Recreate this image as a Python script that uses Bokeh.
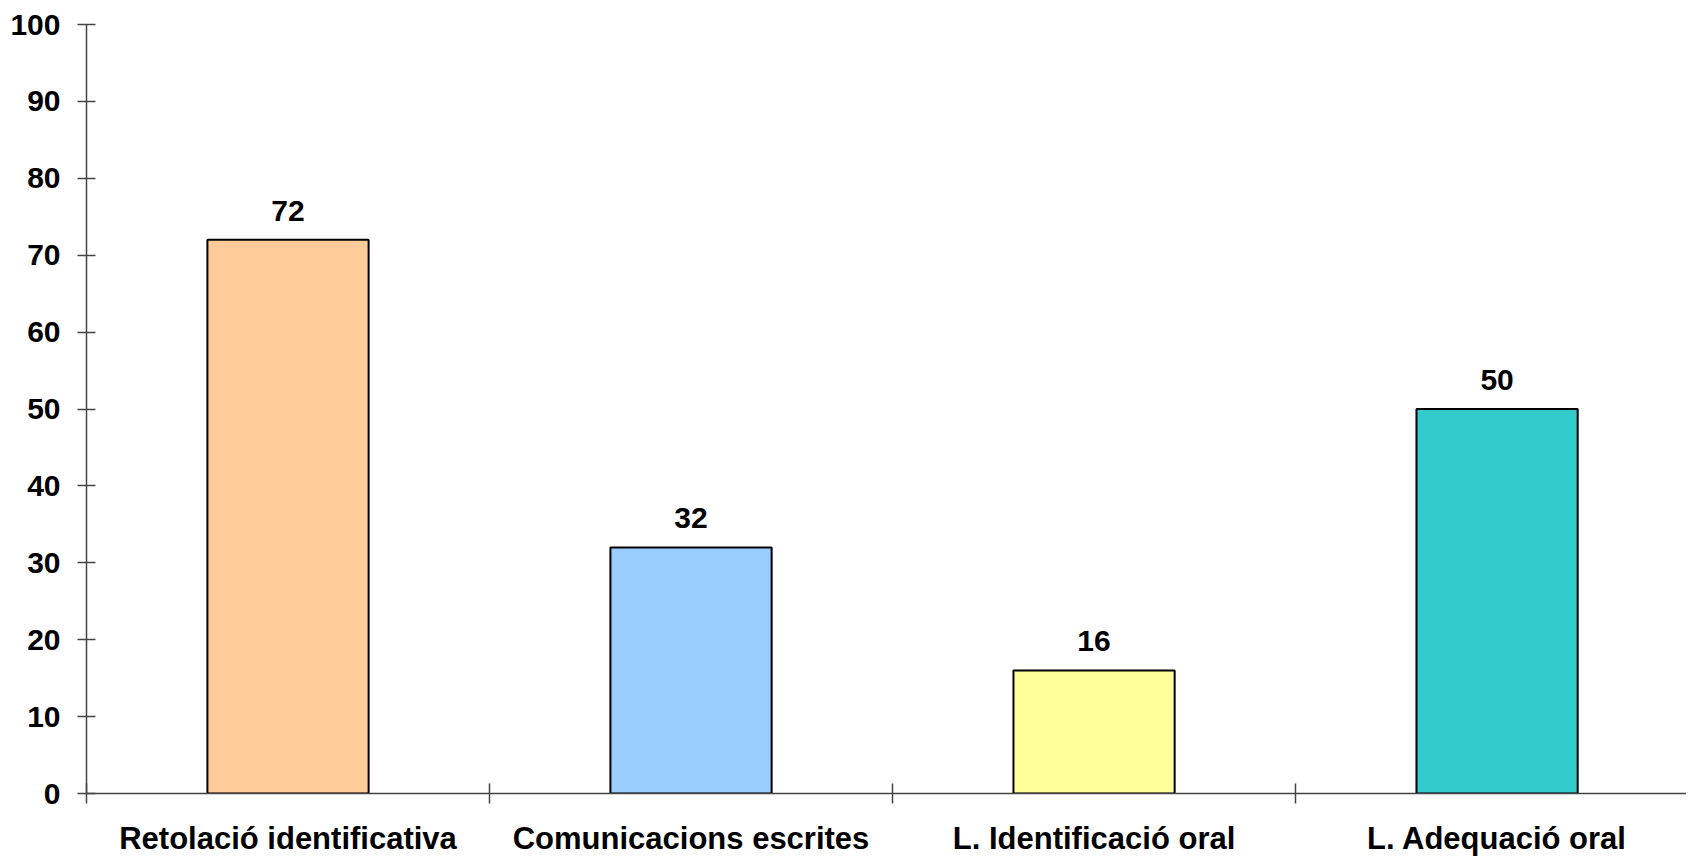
from bokeh.plotting import figure
from bokeh.models import FixedTicker, Range1d, ColumnDataSource
from bokeh.core.properties import value
from bokeh.embed import file_html
from bokeh.resources import INLINE

categories = ["Retolació identificativa", "Comunicacions escrites", "L. Identificació oral", "L. Adequació oral"]
values = [72, 32, 16, 50]
colors = ["#FFCC99", "#99CCFF", "#FFFF99", "#33CCCC"]
y_ticks = [0, 10, 20, 30, 40, 50, 60, 70, 80, 90, 100]

xs = [i + 0.5 for i in range(len(categories))]
src = ColumnDataSource(dict(x=xs, top=values, color=colors, label=[str(v) for v in values]))

FONT = value("Liberation Sans")

p = figure(width=1686, height=858, output_backend="svg", toolbar_location=None,
           x_range=Range1d(0, 3.97), y_range=Range1d(0, 100),
           min_border_left=86, min_border_right=0, min_border_top=24, min_border_bottom=65)
p.outline_line_color = None
p.xgrid.visible = False
p.ygrid.visible = False

p.vbar(x="x", top="top", width=0.4, bottom=0, fill_color="color", line_color="black", line_width=2, source=src)
p.text(x="x", y="top", text="label", source=src, text_align="center", text_baseline="alphabetic",
       y_offset=-29, text_font=FONT, text_font_style="bold", text_font_size="30px", text_color="black")

# y axis
ya = p.yaxis[0]
ya.ticker = FixedTicker(ticks=y_ticks, minor_ticks=[])
ya.major_tick_in = 9
ya.major_tick_out = 9
ya.minor_tick_in = 0
ya.minor_tick_out = 0
ya.axis_line_color = "#444444"
ya.axis_line_width = 1.5
ya.major_tick_line_color = "#444444"
ya.major_tick_line_width = 1.5
ya.major_label_text_font = "Liberation Sans"
ya.major_label_text_font_style = "bold"
ya.major_label_text_font_size = "30px"
ya.major_label_text_color = "black"
ya.major_label_standoff = 17

# x axis
xa = p.xaxis[0]
xa.ticker = FixedTicker(ticks=xs, minor_ticks=list(range(len(categories) + 1)))
xa.major_label_overrides = {x: c for x, c in zip(xs, categories)}
xa.major_tick_in = 0
xa.major_tick_out = 0
xa.minor_tick_in = 10
xa.minor_tick_out = 10
xa.axis_line_color = "#444444"
xa.axis_line_width = 1.5
xa.minor_tick_line_color = "#444444"
xa.minor_tick_line_width = 1.5
xa.major_label_text_font = "Liberation Sans"
xa.major_label_text_font_style = "bold"
xa.major_label_text_font_size = "31px"
xa.major_label_text_color = "black"
xa.major_label_standoff = 17

open("out.html", "w").write(file_html(p, INLINE))
